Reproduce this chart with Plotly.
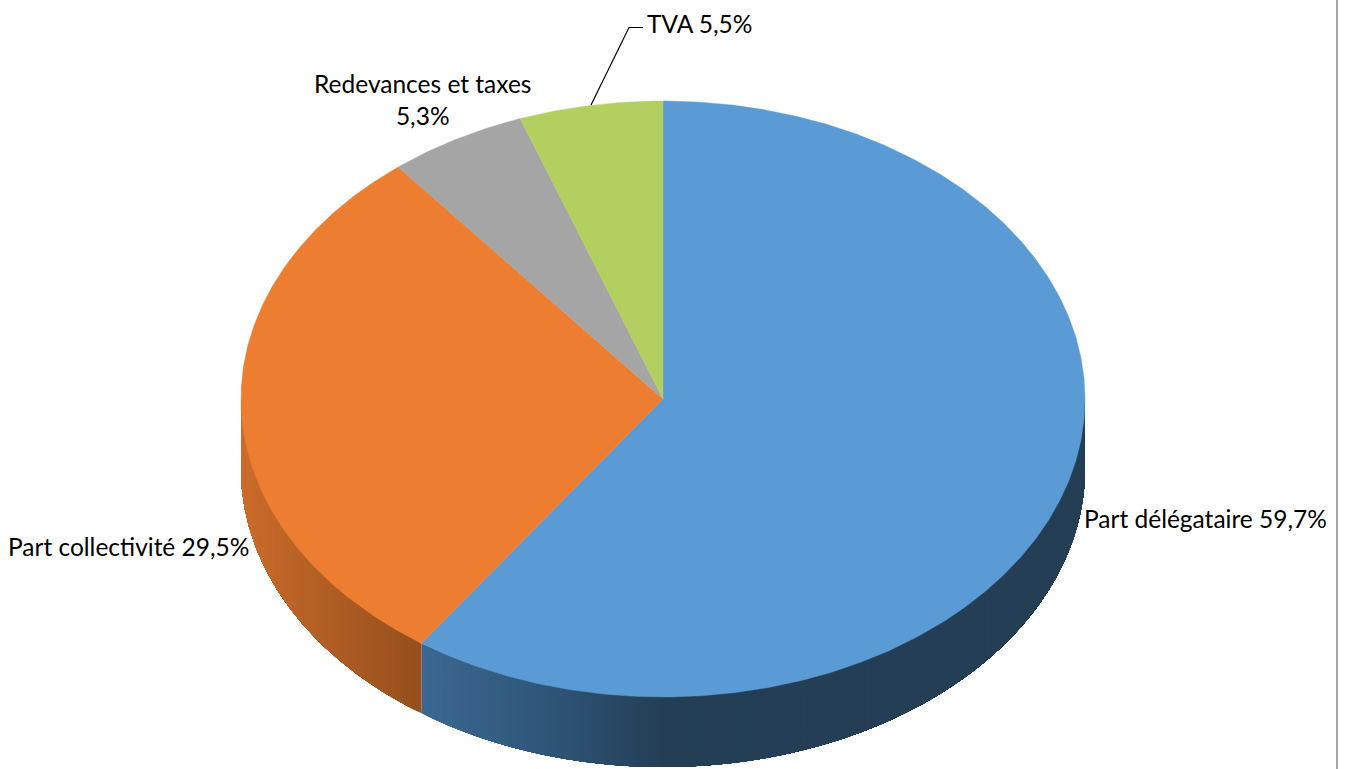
import math
import plotly.graph_objects as go

categories = ["Part délégataire", "Part collectivité", "Redevances et taxes", "TVA"]
values = [59.7, 29.5, 5.3, 5.5]
top_colors = ["#5B9BD5", "#ED7D31", "#A5A5A5", "#B2CF5F"]

W, H = 1348, 769
CX, CY, RX, RY, DEPTH = 663, 399, 422, 298, 70


def on_rim(deg):
    a = math.radians(deg)
    return math.sin(a), math.cos(a)


def arc(a0, a1):
    n = max(2, int(abs(a1 - a0) * 2))
    return [on_rim(a0 + (a1 - a0) * i / n) for i in range(n + 1)]


def mix(stops, t):
    for (t0, c0), (t1, c1) in zip(stops, stops[1:]):
        if t <= t1:
            f = max(0, (t - t0) / (t1 - t0)) if t1 > t0 else 0
            return "rgb(%d,%d,%d)" % tuple(c0[i] + (c1[i] - c0[i]) * f for i in range(3))
    return "rgb(%d,%d,%d)" % stops[-1][1]


blue_side = [(-0.574, (60, 104, 145)), (-0.3, (48, 88, 124)), (0.0, (36, 63, 85)), (1.0, (36, 63, 85))]
orange_side = [(-1.0, (204, 108, 44)), (-0.574, (150, 80, 28))]

fig = go.Figure()
d = DEPTH / RY

ends = []
total = 0
for v in values:
    ends.append((total * 3.6, (total + v) * 3.6))
    total += v

# side wall: each strip runs to the far end of its slice and the next one paints over it,
# so the gradient has no seams between strips
for (a0, a1), stops, forward in ((ends[0], blue_side, False), (ends[1], orange_side, True)):
    lo, hi = max(a0, 90), min(a1, 270)
    step = 0.5
    n = int((hi - lo) / step)
    for i in range(n):
        if forward:
            a, b = lo + i * step, hi
        else:
            a, b = lo, hi - i * step
        pts = arc(a, b)
        xs = [p[0] for p in pts] + [p[0] for p in reversed(pts)]
        ys = [p[1] for p in pts] + [p[1] - d for p in reversed(pts)]
        edge = pts[0][0] if forward else pts[-1][0]
        col = mix(stops, edge)
        fig.add_trace(go.Scatter(x=xs, y=ys, mode="lines", fill="toself", fillcolor=col,
                                 line=dict(width=0), hoverinfo="skip", showlegend=False))

# top face
for (a0, a1), col, name in zip(ends, top_colors, categories):
    pts = [(0, 0)] + arc(a0, a1) + [(0, 0)]
    fig.add_trace(go.Scatter(x=[p[0] for p in pts], y=[p[1] for p in pts], mode="lines",
                             fill="toself", fillcolor=col, line=dict(color=col, width=0.4),
                             name=name, hoverinfo="name", showlegend=False))


def pct(v):
    return f"{v:.1f}%".replace(".", ",")


labels = [
    (f"{categories[0]} {pct(values[0])}", 1205, 518),
    (f"{categories[1]} {pct(values[1])}", 128, 546),
    (f"{categories[2]}<br>{pct(values[2])}", 422, 99),
    (f"{categories[3]} {pct(values[3])}", 699, 23),
]
annotations = [dict(text=t, x=x / W, y=1 - y / H, xref="paper", yref="paper", showarrow=False,
                    xanchor="center", yanchor="middle", align="center",
                    font=dict(family="Lato, Carlito, sans-serif", size=24.5, color="#000000"))
               for t, x, y in labels]

shapes = [
    dict(type="line", xref="paper", yref="paper", x0=1337 / W, x1=1337 / W, y0=0, y1=1,
         line=dict(color="#A6A6A6", width=2)),
    dict(type="path", xref="paper", yref="paper",
         path=f"M {591 / W} {1 - 105 / H} L {629 / W} {1 - 27.5 / H} L {643 / W} {1 - 27.5 / H}",
         line=dict(color="#000000", width=1.2)),
]

fig.update_layout(
    width=W, height=H, margin=dict(l=0, r=0, t=0, b=0), showlegend=False,
    paper_bgcolor="white", plot_bgcolor="white", annotations=annotations, shapes=shapes,
    xaxis=dict(range=[-CX / RX, (W - CX) / RX], visible=False, fixedrange=True),
    yaxis=dict(range=[-(H - CY) / RY, CY / RY], visible=False, fixedrange=True),
)
fig.write_html("out.html", config=dict(displayModeBar=False),
               post_script="document.body.style.margin='0';")
